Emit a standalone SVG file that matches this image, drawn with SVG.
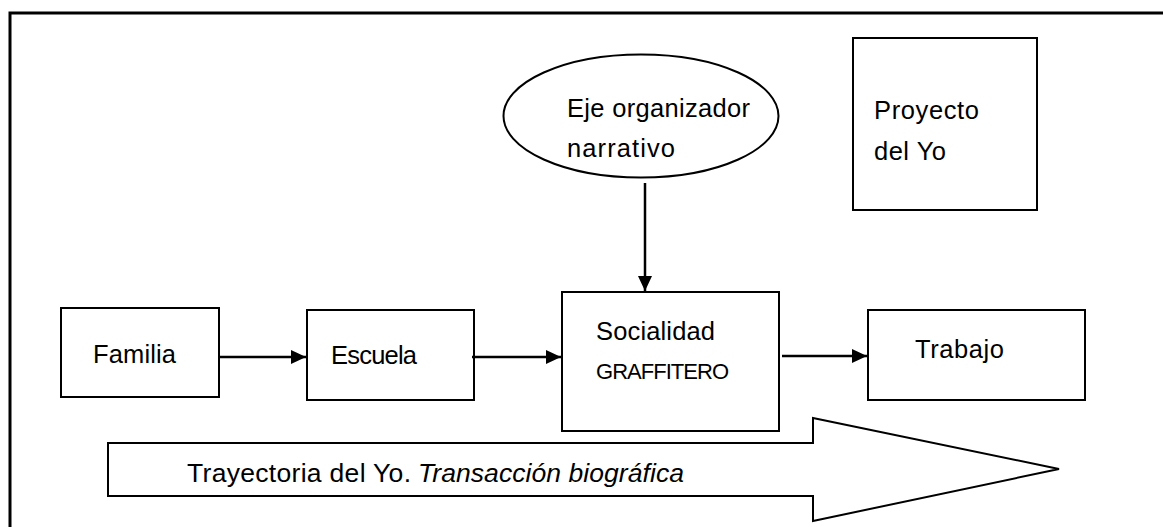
<svg xmlns="http://www.w3.org/2000/svg" width="1163" height="527" viewBox="0 0 1163 527">
<style>
.box{fill:#fff;stroke:#000;stroke-width:2}
.frame{fill:none;stroke:#000;stroke-width:3}
.conn{fill:none;stroke:#000;stroke-width:2.5}
.t{font-family:"Liberation Sans",Arial,sans-serif;font-size:25.5px;fill:#000}
.s{font-size:22px}
.b{font-size:26.5px}
</style>
<defs>
<marker id="ah" viewBox="0 0 15 14" refX="15" refY="7" markerWidth="15" markerHeight="14" markerUnits="userSpaceOnUse" orient="auto">
<path d="M0,0 L15,7 L0,14 Z" fill="#000"/>
</marker>
</defs>
<rect width="1163" height="527" fill="#fff"/>
<path class="frame" d="M10,527 L10,13 L1163,13"/>

<g id="trayectoria">
<path class="box" d="M108,443 L813,443 L813,418 L1059,469 L813,521 L813,496 L108,496 Z"/>
<text class="t b" x="187" y="482"><tspan textLength="224" lengthAdjust="spacing">Trayectoria del Yo.</tspan><tspan x="418" font-style="italic" textLength="266" lengthAdjust="spacing">Transacción biográfica</tspan></text>
</g>

<g id="eje">
<ellipse class="box" cx="641" cy="116" rx="137.5" ry="61.5"/>
<text class="t" x="567" y="117" textLength="183" lengthAdjust="spacing">Eje organizador</text>
<text class="t" x="567" y="157" textLength="108" lengthAdjust="spacing">narrativo</text>
</g>

<g id="proyecto">
<rect class="box" x="853" y="38" width="184" height="172"/>
<text class="t" x="874" y="119" textLength="105" lengthAdjust="spacing">Proyecto</text>
<text class="t" x="874" y="160" textLength="72" lengthAdjust="spacing">del Yo</text>
</g>

<g id="familia">
<rect class="box" x="61" y="308" width="158" height="89"/>
<text class="t" x="93" y="363" textLength="83" lengthAdjust="spacing">Familia</text>
</g>

<g id="escuela">
<rect class="box" x="307" y="310" width="167" height="90"/>
<text class="t" x="331" y="364" textLength="86" lengthAdjust="spacing">Escuela</text>
</g>

<g id="socialidad">
<rect class="box" x="562" y="292" width="217" height="139"/>
<text class="t" x="596" y="340" textLength="119" lengthAdjust="spacing">Socialidad</text>
<text class="t s" x="596" y="379" textLength="133" lengthAdjust="spacing">GRAFFITERO</text>
</g>

<g id="trabajo">
<rect class="box" x="868" y="310" width="217" height="90"/>
<text class="t" x="915" y="358" textLength="89" lengthAdjust="spacing">Trabajo</text>
</g>

<g id="connectors">
<line class="conn" x1="219" y1="357" x2="306" y2="357" marker-end="url(#ah)"/>
<line class="conn" x1="472" y1="357" x2="561" y2="357" marker-end="url(#ah)"/>
<line class="conn" x1="782" y1="356" x2="867" y2="356" marker-end="url(#ah)"/>
<line class="conn" x1="645" y1="183" x2="645" y2="291" marker-end="url(#ah)"/>
</g>
</svg>
